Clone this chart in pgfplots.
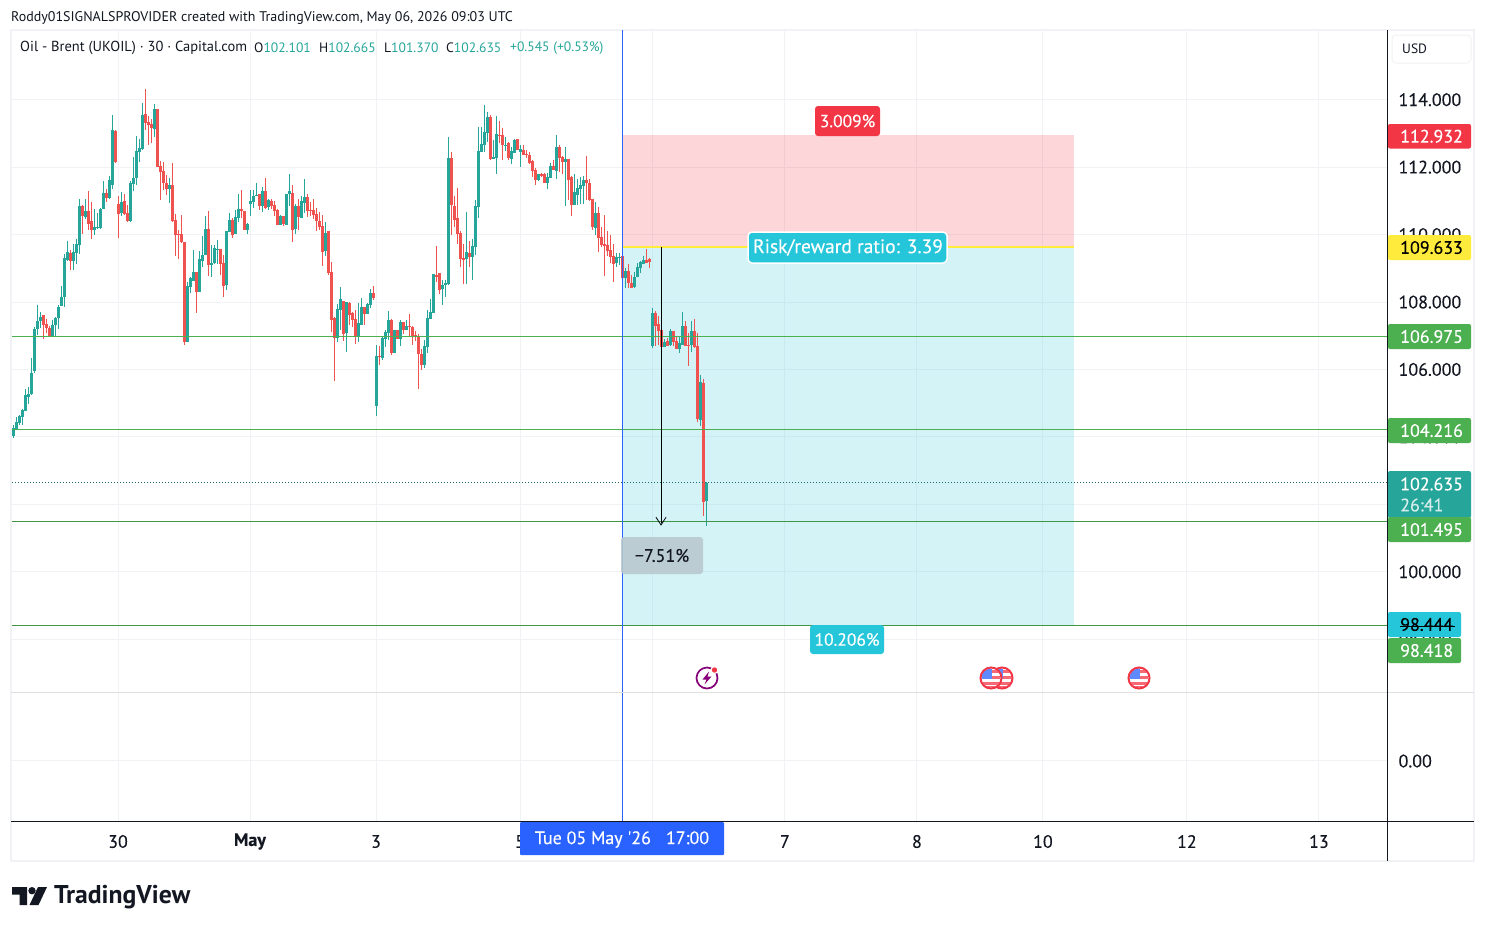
\documentclass[border=0pt]{standalone}
\usepackage{fontspec}
\setmainfont{PT Sans}
\newfontfamily\tagfont[FakeBold=0.25]{PT Sans}
\usepackage{pgfplots}
\usepackage{pgfplotstable}
\pgfplotsset{compat=1.18}
\definecolor{tvgreen}{HTML}{26A69A}
\definecolor{tvred}{HTML}{EF5350}
\definecolor{tvline}{HTML}{4CAF50}
\definecolor{tvgrid}{HTML}{F0F2F5}
\definecolor{tvdark}{HTML}{131722}
\definecolor{tvblue}{HTML}{2962FF}
\definecolor{tvcyan}{HTML}{26C6DA}
\definecolor{tvrisk}{HTML}{F23645}
\definecolor{tvyellow}{HTML}{FFEB3B}
\definecolor{tvbubble}{HTML}{B9C9CE}
\pgfplotstableread{
i o h l c
0 104.02 104.35 103.97 104.25
1 104.23 104.58 104.20 104.43
2 104.42 104.65 104.35 104.62
3 104.60 104.84 104.35 104.80
4 104.77 105.41 104.77 105.24
5 105.19 105.49 104.97 105.27
6 105.27 106.33 105.24 105.91
7 105.95 107.25 105.90 107.20
8 107.20 107.91 107.02 107.43
9 107.43 107.69 107.22 107.55
13 106.99 107.48 106.97 107.33
14 107.31 107.55 106.99 107.52
15 107.52 107.91 107.20 107.85
16 107.88 108.47 107.88 108.15
17 108.15 109.42 107.85 109.30
18 109.24 109.80 109.21 109.48
20 109.21 109.72 108.95 109.48
21 109.45 109.88 109.14 109.72
22 109.69 111.05 109.42 110.84
24 110.52 111.05 110.46 110.70
27 110.13 110.75 109.98 110.22
28 110.19 110.64 110.16 110.22
29 110.19 110.78 110.16 110.75
30 110.75 111.58 110.75 111.23
32 111.08 111.73 111.05 111.61
33 111.47 113.54 111.35 113.10
36 110.64 111.26 110.55 110.96
39 110.40 111.58 110.37 111.53
40 111.50 112.29 111.29 111.67
41 111.67 112.92 111.47 112.47
42 112.44 112.84 112.15 112.56
43 112.53 113.90 112.50 113.54
47 113.13 113.87 112.89 113.72
52 111.35 111.67 110.93 111.47
58 106.81 108.59 106.81 108.47
59 108.44 108.74 108.26 108.71
60 108.62 109.54 108.62 108.89
62 108.29 109.50 108.29 109.27
63 109.21 109.95 109.03 109.39
64 109.39 110.55 109.39 110.16
66 109.09 109.69 108.74 109.15
67 109.15 109.69 109.12 109.60
68 109.54 109.83 109.12 109.57
71 108.50 110.10 108.35 110.10
72 110.07 110.64 110.07 110.43
74 110.01 110.73 110.01 110.52
75 110.49 111.20 110.37 110.75
78 110.13 110.34 110.01 110.31
79 110.90 111.32 110.55 110.99
80 110.96 111.32 110.78 111.14
81 111.14 111.53 111.14 111.17
83 110.84 111.41 110.67 111.29
85 110.81 111.05 110.73 111.02
89 110.28 110.58 110.28 110.55
91 110.28 111.20 110.28 111.20
92 111.20 111.79 110.84 111.29
94 110.16 110.90 110.01 110.84
96 110.49 111.14 110.49 110.99
97 110.93 111.64 110.64 111.11
104 109.51 110.37 109.36 110.04
108 106.93 107.94 106.81 107.79
109 107.76 108.44 107.17 108.09
111 107.08 108.00 106.51 108.00
115 106.99 107.97 106.81 107.37
116 107.31 108.11 107.31 107.85
118 107.64 107.97 107.64 107.94
119 107.91 108.38 107.82 108.26
121 104.91 106.72 104.62 106.39
123 106.34 106.96 106.28 106.93
124 106.90 107.17 106.66 107.11
125 107.08 107.73 106.87 107.46
127 106.48 107.17 106.48 107.17
129 106.90 107.46 106.69 107.40
131 107.17 107.46 107.17 107.29
137 106.13 106.87 106.04 106.69
138 106.66 107.76 106.48 107.52
139 107.49 108.09 107.49 107.70
140 107.67 108.83 107.67 108.83
143 108.39 108.66 107.91 108.51
144 108.51 108.66 108.15 108.57
145 108.54 112.90 108.51 112.27
151 109.28 110.67 108.54 109.49
153 109.34 109.87 108.66 109.66
154 109.63 111.03 109.40 110.85
155 110.82 113.19 110.49 112.48
156 112.45 113.19 112.45 112.69
157 112.66 113.85 112.45 113.05
158 113.02 113.64 112.75 113.49
160 112.24 112.81 112.24 112.30
161 112.27 113.52 111.80 112.99
164 112.63 112.90 112.48 112.66
166 112.24 112.60 112.10 112.48
167 112.42 112.84 112.42 112.81
169 112.45 112.66 112.01 112.54
175 111.62 111.80 111.59 111.80
178 111.53 111.83 111.35 111.71
179 111.68 112.13 111.68 112.04
181 111.89 112.96 111.65 112.60
184 112.16 112.60 110.85 112.24
187 110.88 111.80 110.88 111.27
188 111.18 111.65 110.88 111.38
189 111.35 111.71 110.91 111.47
190 111.44 111.74 110.91 111.62
194 110.20 110.97 109.99 110.64
201 109.16 109.46 109.04 109.34
202 109.31 109.46 109.10 109.34
204 108.72 109.01 108.42 108.92
207 108.45 108.89 108.42 108.74
208 108.74 109.16 108.74 109.04
209 109.01 109.22 108.86 109.19
210 109.13 109.37 109.13 109.25
213 106.70 107.82 106.64 107.68
217 106.67 106.91 106.67 106.82
219 106.73 107.20 106.70 107.14
222 106.61 106.96 106.49 106.79
223 106.73 107.71 106.73 107.29
226 106.73 107.44 106.52 107.14
229 104.50 105.84 104.33 105.63
231 102.101 102.665 101.370 102.635
}\upcandles
\pgfplotstableread{
i o h l c
10 107.61 107.61 106.90 107.33
11 107.36 107.51 107.09 107.24
12 107.24 107.29 106.99 106.99
19 109.46 109.54 108.95 109.21
23 110.84 110.89 110.01 110.55
25 110.70 111.29 110.13 110.31
26 110.40 110.97 109.86 110.13
31 111.23 111.35 110.96 111.08
34 113.07 113.10 112.12 112.15
35 110.90 111.14 109.89 110.61
37 110.99 111.20 110.58 110.61
38 110.64 110.87 110.37 110.40
44 113.57 114.31 113.10 113.31
45 113.33 113.51 112.65 113.25
46 113.28 113.42 112.71 113.16
48 113.72 113.72 112.00 112.00
49 112.03 112.18 111.02 111.85
50 111.88 112.15 111.32 111.53
51 111.53 111.76 111.17 111.35
53 111.47 112.12 110.37 110.40
54 110.43 110.61 109.36 109.98
55 110.01 110.13 109.27 109.98
56 110.01 110.58 109.75 109.77
57 109.78 109.78 106.72 106.81
61 108.89 108.89 107.67 108.29
65 110.16 110.70 108.77 109.09
69 109.57 109.57 108.80 109.12
70 109.15 109.39 108.15 108.47
73 110.43 110.49 109.89 109.98
76 110.75 111.32 110.49 110.70
77 110.70 110.70 110.13 110.13
82 111.20 111.20 110.73 110.84
84 111.29 111.67 110.75 110.78
86 110.99 111.05 110.75 110.84
87 110.87 110.99 110.55 110.70
88 110.72 110.75 110.28 110.28
90 110.55 110.55 110.25 110.31
93 111.23 111.47 109.78 110.13
95 110.84 111.05 110.13 110.52
98 111.11 111.20 110.52 110.70
99 110.72 110.96 110.55 110.70
100 110.72 111.05 110.46 110.58
101 110.61 110.78 110.10 110.40
102 110.40 110.67 110.13 110.22
103 110.25 110.58 109.06 109.48
105 110.10 110.10 108.80 108.86
106 108.89 109.18 107.11 107.46
107 107.52 107.55 105.65 106.93
110 108.03 108.03 106.84 107.05
112 107.97 108.00 107.31 107.61
113 107.67 107.70 107.25 107.46
114 107.49 107.76 106.75 106.99
117 107.85 107.85 107.31 107.64
120 108.26 108.47 108.06 108.11
122 106.39 106.69 106.13 106.37
126 107.46 107.49 106.42 106.48
128 107.17 107.17 106.90 106.90
130 107.40 107.40 107.05 107.17
132 107.29 107.64 106.99 107.26
133 107.26 107.29 106.72 106.99
134 107.02 107.14 106.84 106.99
135 106.99 107.05 105.42 106.45
136 106.45 106.60 105.98 106.13
141 108.80 109.66 108.59 108.74
142 108.86 108.86 108.23 108.35
146 112.27 112.45 109.99 110.88
147 110.85 111.15 110.23 110.43
148 110.49 111.38 109.72 110.02
149 110.05 110.11 109.04 109.28
150 109.31 109.72 108.54 109.25
152 109.46 109.81 109.04 109.34
159 113.49 113.55 112.21 112.24
162 112.96 113.37 112.72 112.93
163 112.96 113.16 112.21 112.66
165 112.72 112.75 112.21 112.27
168 112.84 112.84 112.51 112.51
170 112.51 112.66 112.36 112.36
171 112.39 112.51 112.27 112.36
172 112.36 112.45 112.10 112.13
173 112.18 112.21 111.71 111.89
174 111.92 111.98 111.47 111.62
176 111.80 111.83 111.71 111.74
177 111.80 111.83 111.53 111.53
180 112.04 112.21 111.92 111.92
182 112.60 112.66 111.86 112.27
183 112.30 112.33 111.80 112.16
185 112.24 112.24 111.03 111.62
186 111.71 111.74 110.55 110.88
191 111.62 112.33 111.03 111.53
192 111.53 111.65 111.00 111.03
193 111.06 111.06 110.14 110.23
195 110.64 110.82 109.49 109.90
196 109.93 110.23 109.63 109.69
197 109.72 110.58 108.77 109.66
198 109.69 110.11 109.37 109.52
199 109.55 109.99 109.16 109.34
200 109.37 109.72 108.60 109.13
203 109.37 109.66 108.66 108.72
205 108.92 109.13 108.42 108.57
206 108.57 108.80 108.42 108.42
211 109.25 109.57 109.16 109.16
212 109.28 109.31 109.01 109.19
214 107.68 107.74 106.70 107.29
215 107.35 107.59 106.73 107.14
216 107.17 107.32 106.34 106.67
218 106.85 106.94 106.70 106.70
220 107.14 107.14 106.70 106.82
221 106.85 106.99 106.61 106.61
224 107.29 107.44 106.70 106.70
225 106.73 107.08 106.10 106.70
227 107.14 107.50 106.64 106.67
228 106.70 107.08 104.44 104.53
230 105.60 105.72 101.66 102.07
}\downcandles
\pgfplotsset{
  pane/.style={scale only axis, width=1375pt, xmin=-0.433, xmax=457.9,
    axis line style={draw=none}, tick style={draw=none}, major tick length=0pt,
    grid=major, grid style={draw=tvgrid, line width=1pt},
    xtick={34.9,78.9,120.9,168.9,212.9,257.2,301.2,343.2,391.2,435.2},
    yticklabel pos=right, axis on top=false},
  wick/.style={no markers, draw=none, forget plot,
    error bars/.cd, y dir=minus, y explicit, error mark=none,
    error bar style={draw=#1, line width=1pt, line cap=butt}},
  body/.style={no markers, draw=none, forget plot,
    error bars/.cd, y dir=minus, y explicit, error mark=none,
    error bar style={draw=#1, line width=2.8pt, line cap=butt}},
}
\newcommand{\pricetag}[6]{% ytop, ybot, xright, fill, text colour, text
  \fill[#4, rounded corners=2pt] (1388pt,-#1pt) rectangle (#3pt,-#2pt);
  \node[anchor=west, inner sep=0pt, text=#5, font=\tagfont\fontsize{18}{18}\selectfont]
    at (1400pt,{-(#1+#2)/2*1pt}) {#6};}
\newcommand{\bubble}[8]{% x1,y1,x2,y2,fill,text colour,text,size
  \fill[#5, rounded corners=3pt] (#1pt,-#2pt) rectangle (#3pt,-#4pt);
  \node[inner sep=0pt, text=#6, font=\tagfont\fontsize{#8}{#8}\selectfont]
    at ({(#1+#3)/2*1pt},{-(#2+#4)/2*1pt}) {#7};}
\newcommand{\usflag}[2]{\begin{scope}[shift={(#1pt,-#2pt)}]
  \fill[white] (0,0) circle (11pt);
  \begin{scope}\clip (0,0) circle (9.5pt);
    \fill[tvrisk!75] (-10pt,-7pt) rectangle (10pt,-3.5pt);
    \fill[tvrisk!75] (-10pt,-0.5pt) rectangle (10pt,2.5pt);
    \fill[tvrisk!75] (-10pt,-10pt) rectangle (10pt,-8pt);
    \fill[tvrisk!75] (-10pt,5.5pt) rectangle (10pt,8pt);
    \fill[tvblue!75] (-10pt,-1pt) rectangle (1pt,10pt);
  \end{scope}
  \draw[tvrisk, line width=2pt] (0,0) circle (10.5pt);
\end{scope}}
\begin{document}
\begin{tikzpicture}[x=1pt,y=1pt]
\useasboundingbox (0,0) rectangle (1485pt,-930pt);
\fill[white] (0,0) rectangle (1485pt,-930pt);
\draw[tvgrid, line width=1.5pt] (11pt,-30pt) rectangle (1474pt,-861pt);
\begin{axis}[pane, at={(12pt,-692pt)}, anchor=south west, height=662pt,
  ymin=96.435, ymax=116.067,
  ytick={98,100,102,104,106,108,110,112,114},
  xticklabels={},
  yticklabel style={font=\tagfont\fontsize{18}{18}\selectfont, text=tvdark, anchor=west, xshift=8pt,
    /pgf/number format/.cd, fixed, fixed zerofill, precision=3, 1000 sep={}, assume math mode=true}]
\addplot[draw=none, fill=tvrisk, fill opacity=0.2, forget plot] coordinates {(203,109.633)(353.6,109.633)(353.6,112.932)(203,112.932)} -- cycle;
\addplot[draw=none, fill=tvcyan, fill opacity=0.2, forget plot] coordinates {(203,98.444)(353.6,98.444)(353.6,109.633)(203,109.633)} -- cycle;
\addplot[draw=tvrisk, draw opacity=0.2, line width=1pt, forget plot] coordinates {(203,112.932)(353.6,112.932)};
\addplot[draw=tvcyan, draw opacity=0.2, line width=1pt, forget plot] coordinates {(203,98.444)(353.6,98.444)};
\addplot[wick=tvgreen] table[x=i, y=h, y error minus expr=\thisrow{h}-\thisrow{l}] {\upcandles};
\addplot[body=tvgreen] table[x=i, y=c, y error minus expr=\thisrow{c}-\thisrow{o}] {\upcandles};
\addplot[wick=tvred] table[x=i, y=h, y error minus expr=\thisrow{h}-\thisrow{l}] {\downcandles};
\addplot[body=tvred] table[x=i, y=o, y error minus expr=\thisrow{o}-\thisrow{c}] {\downcandles};
\addplot[tvline, line width=1pt, forget plot] coordinates {(-0.433,106.975)(457.9,106.975)};
\addplot[tvline, line width=1pt, forget plot] coordinates {(-0.433,104.216)(457.9,104.216)};
\addplot[tvline!85!black, line width=1pt, forget plot] coordinates {(-0.433,101.495)(457.9,101.495)};
\addplot[tvline!85!black, line width=1pt, forget plot] coordinates {(-0.433,98.418)(457.9,98.418)};
\addplot[tvgreen!60!tvdark, line width=1pt, dash pattern=on 1pt off 2pt, forget plot] coordinates {(-0.433,102.635)(457.9,102.635)};
\addplot[tvyellow, line width=2pt, forget plot] coordinates {(203,109.633)(353.6,109.633)};
\addplot[tvblue, line width=1pt, forget plot] coordinates {(203,96.435)(203,116.067)};
\addplot[black, line width=1pt, forget plot] coordinates {(215.9,109.633)(215.9,101.45)};
\addplot[black, line width=0.8pt, forget plot] coordinates {(214.2,101.62)(215.9,101.39)(217.6,101.62)};
\end{axis}
\begin{axis}[pane, at={(12pt,-821pt)}, anchor=south west, height=129pt,
  ymin=-0.87, ymax=1, ytick={0,1},
  yticklabels={0.00,},
  xticklabels={30,\textbf{May},3,5,6,7,8,10,12,13},
  xticklabel style={font=\tagfont\fontsize{18}{18}\selectfont, text=tvdark, anchor=center, yshift=-20.5pt},
  yticklabel style={font=\tagfont\fontsize{18}{18}\selectfont, text=tvdark, anchor=west, xshift=8pt}]
\addplot[tvblue, line width=1pt, forget plot] coordinates {(203,-0.87)(203,1)};
\end{axis}
% scale lines
\draw[tvdark, line width=1pt] (1387.5pt,-30pt) -- (1387.5pt,-861pt);
\draw[tvdark, line width=1pt] (11pt,-821.5pt) -- (1474pt,-821.5pt);
\draw[black!12, line width=1pt] (11pt,-692.5pt) -- (1387pt,-692.5pt);
\draw[black!12, line width=1pt] (1388pt,-692.5pt) -- (1474pt,-692.5pt);
% header
\node[anchor=west, inner sep=0pt, text=tvdark, font=\fontsize{14}{14}\selectfont] at (11pt,-18pt)
  {Roddy01SIGNALSPROVIDER created with TradingView.com, May 06, 2026 09:03 UTC};
\node[anchor=west, inner sep=0pt, text=tvdark, font=\fontsize{14.5}{14}\selectfont] at (20pt,-48pt)
  {Oil - Brent (UKOIL) · 30 · Capital.com};
\node[anchor=west, inner sep=0pt, font=\fontsize{13.6}{14}\selectfont] at (254pt,-48pt)
  {\textcolor{tvdark}{O}\textcolor{tvgreen}{102.101}};
\node[anchor=west, inner sep=0pt, font=\fontsize{13.6}{14}\selectfont] at (319pt,-48pt)
  {\textcolor{tvdark}{H}\textcolor{tvgreen}{102.665}};
\node[anchor=west, inner sep=0pt, font=\fontsize{13.6}{14}\selectfont] at (384pt,-48pt)
  {\textcolor{tvdark}{L}\textcolor{tvgreen}{101.370}};
\node[anchor=west, inner sep=0pt, font=\fontsize{13.6}{14}\selectfont] at (446pt,-48pt)
  {\textcolor{tvdark}{C}\textcolor{tvgreen}{102.635}};
\node[anchor=west, inner sep=0pt, text=tvgreen, font=\fontsize{13.6}{14}\selectfont] at (510pt,-48pt)
  {+0.545 (+0.53\%)};
% USD button
\draw[tvgrid, line width=1pt, fill=white, rounded corners=4pt] (1392pt,-35pt) rectangle (1471pt,-63pt);
\node[anchor=west, inner sep=0pt, text=tvdark, font=\fontsize{13.5}{14}\selectfont] at (1402pt,-49pt) {USD};
% price tags
\pricetag{124}{148.5}{1471}{tvrisk}{white}{112.932}
\pricetag{235}{260}{1471}{tvyellow}{black}{109.633}
\pricetag{324}{349}{1471}{tvline}{white}{106.975}
\pricetag{418}{443}{1471}{tvline}{white}{104.216}
\fill[tvgreen, rounded corners=2pt] (1388pt,-471pt) rectangle (1471pt,-518pt);
\node[anchor=west, inner sep=0pt, text=white, font=\tagfont\fontsize{18}{18}\selectfont] at (1400pt,-484pt) {102.635};
\node[anchor=west, inner sep=0pt, text=white!80!tvgreen, font=\tagfont\fontsize{18}{18}\selectfont] at (1400pt,-505pt) {26:41};
\pricetag{517}{542}{1471}{tvline}{white}{101.495}
\pricetag{638}{663}{1461}{tvline}{white}{98.418}
\pricetag{612}{637}{1461}{tvcyan}{black}{98.444}
\draw[black, line width=0.8pt] (1400pt,-626pt) -- (1455pt,-626pt);
% bubbles
\bubble{815}{106}{880}{136}{tvrisk}{white}{3.009\%}{17.5}
\draw[white, line width=1.5pt, fill=tvcyan, rounded corners=4pt] (748pt,-232pt) rectangle (947pt,-263pt);
\node[inner sep=0pt, text=white, font=\tagfont\fontsize{19.5}{19.5}\selectfont] at (848pt,-247.5pt) {Risk/reward ratio: 3.39};
\bubble{810}{625}{884}{654}{tvcyan}{white}{10.206\%}{17.5}
\fill[tvbubble, fill opacity=0.9, rounded corners=3pt] (621pt,-537pt) rectangle (703pt,-574pt);
\node[inner sep=0pt, text=tvdark, font=\tagfont\fontsize{18}{18}\selectfont] at (662pt,-555.5pt) {−7.51\%};
% date box
\fill[tvblue, rounded corners=1pt] (520pt,-822pt) rectangle (724pt,-855pt);
\node[inner sep=0pt, text=white, font=\tagfont\fontsize{18}{18}\selectfont] at (622pt,-839.5pt) {Tue 05 May '26\hspace{15pt}17:00};
% event icons
\draw[purple!70!blue, line width=1.7pt] (707pt,-678pt) circle (10.5pt);
\fill[purple!70!blue] (709pt,-671.5pt) -- (702.5pt,-679.5pt) -- (706.5pt,-679.5pt) -- (704.5pt,-684.5pt) -- (711.5pt,-676.5pt) -- (707.5pt,-676.5pt) -- cycle;
\fill[white] (714.5pt,-670pt) circle (4pt);
\fill[tvrisk] (714.5pt,-670pt) circle (2.7pt);
\usflag{1002}{678}
\usflag{991}{678}
\usflag{1139}{678}
% logo
\fill[tvdark] (12pt,-887pt) -- (27pt,-887pt) -- (27pt,-905pt) -- (19.5pt,-905pt) -- (19.5pt,-894.5pt) -- (12pt,-894.5pt) -- cycle;
\fill[tvdark] (32pt,-890.7pt) circle (3.7pt);
\fill[tvdark] (38pt,-887pt) -- (47pt,-887pt) -- (38.5pt,-905pt) -- (29.5pt,-905pt) -- cycle;
\node[anchor=west, inner sep=0pt, text=tvdark, font=\fontsize{25.7}{26}\selectfont\bfseries] at (54pt,-897pt) {TradingView};
\end{tikzpicture}
\end{document}
